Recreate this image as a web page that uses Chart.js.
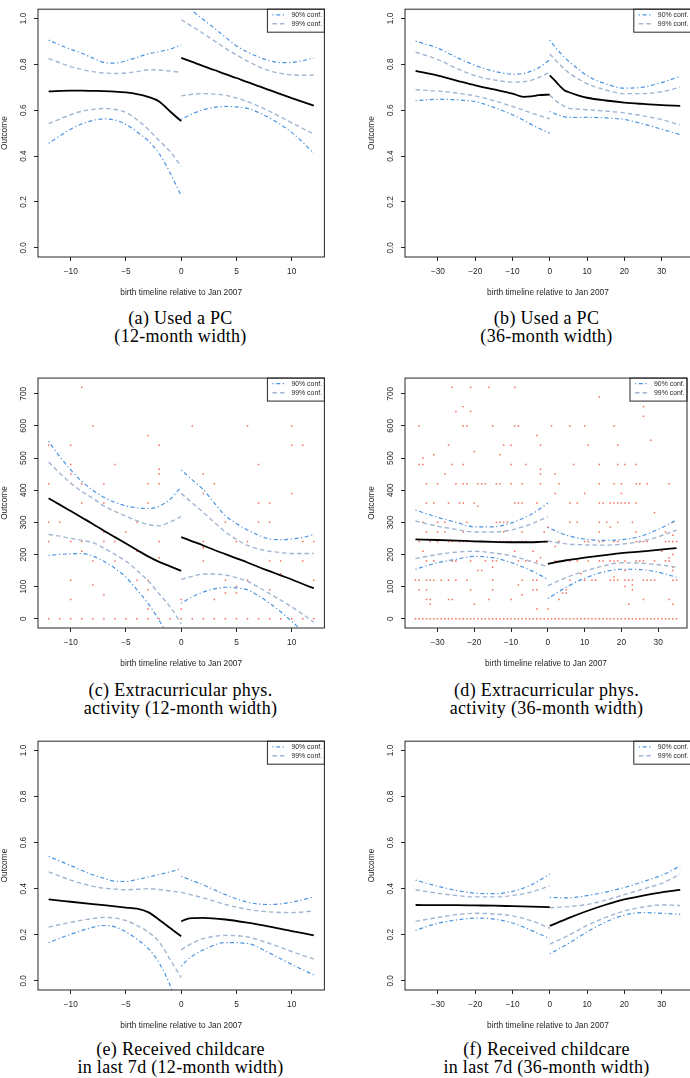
<!DOCTYPE html>
<html><head><meta charset="utf-8">
<script src="https://cdn.jsdelivr.net/npm/chart.js@4.4.1/dist/chart.umd.min.js"></script>
<style>
html,body{margin:0;padding:0;width:690px;height:1078px;overflow:hidden;background:#fff;position:relative}
canvas{position:absolute}
.cap{position:absolute;width:345px;text-align:center;font-family:'Liberation Serif','Times New Roman',serif;font-size:18px;line-height:18px;letter-spacing:0.3px;color:#000;white-space:nowrap}
</style></head><body>
<canvas id="pa"></canvas><canvas id="pb"></canvas>
<canvas id="pc"></canvas><canvas id="pd"></canvas>
<canvas id="pe"></canvas><canvas id="pf"></canvas>
<div class="cap" style="left:8px;top:309px">(a) Used a PC<br>(12-month width)</div>
<div class="cap" style="left:374px;top:309px">(b) Used a PC<br>(36-month width)</div>
<div class="cap" style="left:8px;top:681px">(c) Extracurricular phys.<br>activity (12-month width)</div>
<div class="cap" style="left:374px;top:681px">(d) Extracurricular phys.<br>activity (36-month width)</div>
<div class="cap" style="left:8px;top:1040px">(e) Received childcare<br>in last 7d (12-month width)</div>
<div class="cap" style="left:374px;top:1040px">(f) Received childcare<br>in last 7d (36-month width)</div>
<script>
// ---------- axis text ----------
const xTicks12 = [-10, -5, 0, 5, 10];
const xTicks36 = [-30, -20, -10, 0, 10, 20, 30];
const yTicksShare = [0, 0.2, 0.4, 0.6, 0.8, 1.0];
const yTicksMinutes = [0, 100, 200, 300, 400, 500, 600, 700];
const xTitle = 'birth timeline relative to Jan 2007';
const yTitle = 'Outcome';
const legendLabels = ['90% conf.', '99% conf.'];

// ---------- (a) Used a PC, 12-month ----------
const a_xL    = [-12, -10, -9, -8, -7, -6, -5, -4, -3, -2, -1, 0];
const a_mainL = [.682, .685, .685, .684, .683, .681, .677, .670, .658, .638, .594, .552];
const a_hi90L = [.905, .865, .848, .827, .808, .805, .815, .830, .845, .855, .866, .884];
const a_hi99L = [.825, .790, .777, .768, .762, .760, .762, .768, .776, .775, .770, .765];
const a_lo99L = [.541, .580, .595, .603, .607, .603, .590, .558, .517, .467, .420, .355];
const a_lo90L = [.456, .517, .540, .555, .562, .557, .538, .505, .467, .411, .326, .227];
const a_xR    = [0, 1, 2, 3, 4, 5, 6, 7, 8, 9, 10, 11, 12];
const a_mainR = [.828, .810, .792, .775, .757, .740, .722, .705, .687, .670, .652, .636, .620];
const a_hi90R = [1.12, 1.037, .995, .957, .918, .880, .853, .832, .815, .807, .808, .815, .828];
const a_hi99R = [.994, .964, .934, .902, .870, .841, .814, .790, .771, .760, .754, .752, .753];
const a_lo99R = [.662, .669, .672, .670, .665, .653, .637, .617, .595, .570, .545, .520, .496];
const a_lo90R = [.560, .584, .602, .612, .616, .614, .608, .590, .566, .537, .503, .460, .411];

// ---------- (b) Used a PC, 36-month ----------
const b_xL    = [-36, -30, -25, -20, -15, -10, -7, -5, -3, 0];
const b_mainL = [.771, .750, .729, .708, .690, .672, .658, .660, .665, .668];
const b_hi90L = [.901, .870, .830, .795, .770, .757, .760, .770, .785, .820];
const b_hi99L = [.853, .820, .782, .750, .732, .722, .724, .730, .742, .764];
const b_lo99L = [.689, .683, .675, .662, .641, .616, .600, .588, .577, .562];
const b_lo90L = [.641, .647, .645, .637, .612, .580, .556, .538, .522, .499];
const b_xR    = [0, 1, 2, 3, 4, 5, 8, 10, 15, 20, 25, 30, 35];
const b_mainR = [.752, .735, .718, .700, .686, .679, .662, .654, .642, .633, .627, .622, .619];
const b_hi90R = [.905, .884, .864, .846, .830, .814, .775, .750, .715, .696, .700, .720, .747];
const b_hi99R = [.845, .827, .810, .794, .779, .764, .733, .715, .688, .672, .672, .680, .700];
const b_lo99R = [.665, .650, .636, .625, .616, .609, .604, .602, .596, .588, .575, .559, .535];
const b_lo90R = [.594, .587, .580, .575, .571, .569, .568, .569, .566, .559, .540, .517, .493];

// ---------- (c) Extracurricular phys. activity, 12-month ----------
const c_xL    = [-12, -11, -10, -9, -8, -7, -6, -5, -4, -3, -2, -1, 0];
const c_mainL = [375, 355, 335, 315, 295, 274, 254, 234, 214, 194, 177, 163, 149];
const c_hi90L = [552, 505, 463, 428, 400, 378, 362, 351, 345, 343, 350, 372, 410];
const c_hi99L = [488, 453, 422, 396, 375, 351, 334, 319, 305, 293, 289, 301, 318];
const c_lo99L = [262, 257, 250, 244, 237, 220, 200, 179, 150, 118, 78, 37, -15];
const c_lo90L = [197, 200, 202, 203, 195, 179, 157, 129, 90, 48, -5, -65, -140];
const c_xR    = [0, 1, 2, 3, 4, 5, 6, 7, 8, 9, 10, 11, 12];
const c_mainR = [254, 241, 228, 214, 201, 188, 175, 161, 148, 135, 122, 108, 95];
const c_hi90R = [463, 432, 402, 360, 321, 296, 276, 260, 248, 246, 248, 253, 262];
const c_hi99R = [390, 360, 331, 300, 270, 247, 228, 217, 210, 206, 203, 203, 203];
const c_lo99R = [122, 132, 139, 139, 136, 128, 116, 98, 78, 58, 37, 14, -11];
const c_lo90R = [48, 68, 83, 93, 98, 96, 90, 72, 48, 22, -8, -40, -75];
// observations: month and the minutes observed in that month
const c_obsMonth = [-12, -11, -10, -9, -8, -7, -6, -5, -4, -3, -2, -1, 0, 1, 2, 3, 4, 5, 6, 7, 8, 9, 10, 11, 12];
const c_obsMinutes = [
  [540, 420, 300, 240, 0], [300, 0], [540, 480, 450, 240, 120, 60, 0], [720, 420, 360, 240, 210, 0],
  [600, 180, 105, 0], [420, 360, 270, 240, 75, 0], [480, 240, 180, 0], [270, 0], [300, 210, 120, 0],
  [570, 420, 360, 120, 90, 30, 0], [540, 465, 450, 420, 240, 190, 0], [0], [60, 30, 0], [600, 0],
  [450, 390, 240, 225, 220, 180, 0], [420, 60, 0], [300, 120, 80, 0], [240, 100, 80, 0], [600, 240, 120, 0],
  [480, 360, 300, 0], [360, 300, 180, 90, 0], [180, 140, 0], [600, 540, 390, 0], [540, 240, 180, 0], [240, 120, 0]
];

// ---------- (d) Extracurricular phys. activity, 36-month ----------
const d_xL    = [-36, -30, -25, -20, -15, -10, -5, -2, 0];
const d_mainL = [247, 245, 243, 241, 239, 238, 238, 239, 240];
const d_hi90L = [338, 316, 300, 286, 286, 298, 322, 343, 360];
const d_hi99L = [304, 288, 278, 270, 270, 276, 293, 307, 318];
const d_lo99L = [187, 200, 207, 210, 205, 196, 180, 169, 161];
const d_lo90L = [154, 174, 185, 194, 190, 175, 152, 135, 122];
const d_xR    = [0, 5, 10, 15, 20, 25, 30, 35];
const d_mainR = [171, 182, 190, 197, 204, 209, 214, 220];
const d_hi90R = [284, 260, 248, 244, 246, 256, 278, 308];
const d_hi99R = [242, 233, 230, 229, 232, 240, 255, 276];
const d_lo99R = [103, 128, 148, 164, 174, 173, 168, 161];
const d_lo90R = [63, 98, 126, 145, 154, 153, 145, 129];
// observations: minute level and the months in which it is observed
const d_obsMinutes = [720, 690, 660, 645, 630, 600, 570, 555, 540, 520, 510, 500, 480, 465, 450, 420, 390, 360, 350, 330, 300, 285, 270, 260, 240, 225, 210, 200, 190, 180, 160, 150, 140, 130, 120, 105, 100, 90, 80, 75, 60, 45, 30, 0];
const d_obsMonths = [
  [-26, -21, -16, -9],
  [14],
  [-23, 26],
  [-25, -21],
  [26],
  [-35, -23, -22, -15, -9, -8, 1, 6, 10, 18],
  [-3],
  [28],
  [-27, -12, -10, -2, 11, 19],
  [-20],
  [-31, -13],
  [-34],
  [-35, -34, -26, -23, -10, -6, 7, 14, 19, 21, 24],
  [-2],
  [-28, -2, 2],
  [-33, -30, -25, -23, -22, -19, -18, -17, -14, -13, -10, -7, -2, 3, 14, 18, 20, 24, 25, 27, 33],
  [2, 10, 20],
  [-33, -31, -27, -24, -23, -20, -9, -8, -7, -3, 6, 8, 14, 15, 17, 18, 19, 20, 21, 22, 24],
  [-19],
  [29],
  [-34, -30, -28, -22, -14, -13, -12, -11, 6, 8, 14, 16, 19, 23, 34],
  [0, 17],
  [-33, -30, -28, -23, -12, -7, -1, 14, 24, 32],
  [34],
  [-35, -32, -30, -27, -26, -24, -23, -22, -21, -20, -18, -17, -16, -15, -14, -13, -12, -11, -10, -8, -7, -6, -2, -1, 3, 10, 11, 14, 15, 18, 19, 24, 25, 26, 27, 32, 33, 34, 35],
  [2],
  [-34, -9, -4, 31],
  [34],
  [-2, 33],
  [-33, -31, -26, -25, -21, -17, -15, -14, -8, -6, -5, -3, 2, 6, 8, 11, 14, 15, 17, 18, 19, 21, 24, 25, 26, 29, 32, 33],
  [-15, 34],
  [-19, -18, 21, 34],
  [9],
  [18],
  [-36, -35, -33, -32, -31, -29, -27, -25, -22, -15, -7, -4, -3, 6, 10, 12, 13, 17, 18, 19, 21, 22, 23, 26, 27, 28, 29, 34, 35],
  [-8, 23],
  [21],
  [-35, -33, -21, -15, -4, -3, 5, 23],
  [4, 5],
  [-7],
  [-33, -32, -27, -26, -16, -10, 3, 26, 33],
  [-32, -20, 22, 34],
  [-3, 0],
  [-36, -35, -34, -33, -32, -31, -30, -29, -28, -27, -26, -25, -24, -23, -22, -21, -20, -19, -18, -17, -16, -15, -14, -13, -12, -11, -10, -9, -8, -7, -6, -5, -4, -3, -2, -1, 0,
   1, 2, 3, 4, 5, 6, 7, 8, 9, 10, 11, 12, 13, 14, 15, 16, 17, 18, 19, 20, 21, 22, 23, 24, 25, 26, 27, 28, 29, 30, 31, 32, 33, 34, 35]
];

// ---------- (e) Received childcare in last 7d, 12-month ----------
const e_xL    = [-12, -10, -8, -7, -6, -5, -4, -3, -2, -1, 0];
const e_mainL = [.353, .343, .333, .328, .323, .318, .313, .298, .265, .229, .193];
const e_hi90L = [.540, .500, .460, .445, .432, .431, .440, .450, .461, .473, .487];
const e_hi99L = [.473, .437, .410, .402, .398, .395, .397, .400, .396, .390, .384];
const e_lo99L = [.233, .254, .270, .275, .272, .261, .240, .212, .169, .092, .014];
const e_lo90L = [.166, .202, .232, .240, .234, .212, .180, .141, .078, -.02, -.15];
const e_xR    = [0, 0.5, 1, 2, 4, 6, 8, 10, 12];
const e_mainR = [.258, .268, .272, .273, .266, .252, .235, .216, .197];
const e_hi90R = [.454, .444, .435, .416, .374, .341, .331, .341, .364];
const e_hi99R = [.384, .378, .372, .360, .331, .310, .299, .296, .303];
const e_lo99R = [.134, .150, .163, .183, .197, .190, .162, .127, .094];
const e_lo90R = [.063, .088, .107, .134, .166, .162, .120, .071, .025];

// ---------- (f) Received childcare in last 7d, 36-month ----------
const f_xL    = [-36, -30, -25, -20, -15, -10, -5, 0];
const f_mainL = [.329, .328, .328, .327, .326, .324, .322, .320];
const f_hi90L = [.437, .410, .392, .380, .378, .388, .416, .463];
const f_hi99L = [.395, .380, .370, .364, .364, .370, .385, .412];
const f_lo99L = [.258, .275, .287, .293, .290, .282, .261, .228];
const f_lo90L = [.219, .250, .264, .272, .268, .251, .219, .183];
const f_xR    = [0, 5, 10, 15, 20, 25, 30, 35];
const f_mainR = [.238, .272, .303, .330, .353, .370, .384, .395];
const f_hi90R = [.362, .360, .370, .385, .405, .430, .458, .498];
const f_hi99R = [.317, .322, .331, .350, .374, .398, .423, .463];
const f_lo99R = [.159, .197, .240, .275, .303, .320, .329, .327];
const f_lo90R = [.117, .162, .212, .255, .285, .296, .293, .288];

// ---------- styles ----------
const FONT = {family: "'Liberation Sans', Arial, Helvetica, sans-serif", size: 8.3};
const INK = '#262626';
const S_MAIN = {borderColor: '#000', borderWidth: 1.8};
const S90 = {borderColor: '#4a93e0', borderWidth: 1.2, borderDash: [1.2, 2.6, 4, 2.6]};
const S99 = {borderColor: '#a2b6d0', borderWidth: 1.4, borderDash: [4.5, 3]};
const PT_COLOR = 'rgba(245,90,70,0.9)';

function fmtX(v) { return v < 0 ? '\u2212' + Math.abs(v) : String(v); }

function lineDS(xs, ys, style, label) {
  return Object.assign({
    label: label || '', data: xs.map((x, i) => ({x: x, y: ys[i]})),
    showLine: true, pointRadius: 0, fill: false, cubicInterpolationMode: 'monotone'
  }, style);
}

const boxPlugin = {
  id: 'rbox',
  afterDatasetsDraw(chart) {
    const {ctx, chartArea: a} = chart;
    ctx.save();
    ctx.strokeStyle = INK; ctx.lineWidth = 1;
    ctx.strokeRect(a.left, a.top, a.right - a.left, a.bottom - a.top);
    // legend box (top right, as in R legend("topright"))
    const w = 57, h = 23;
    const x0 = a.right - w, y0 = a.top;
    ctx.strokeRect(x0, y0, w, h);
    const rows = [{s: S90, y: y0 + 5.6, t: legendLabels[0]}, {s: S99, y: y0 + 14.6, t: legendLabels[1]}];
    rows.forEach(r => {
      ctx.beginPath();
      ctx.setLineDash(r.s.borderDash);
      ctx.strokeStyle = r.s.borderColor; ctx.lineWidth = r.s.borderWidth;
      ctx.moveTo(x0 + 5, r.y); ctx.lineTo(x0 + 19, r.y); ctx.stroke();
      ctx.setLineDash([]);
      ctx.fillStyle = INK;
      ctx.font = "6.9px 'Liberation Sans', Arial, sans-serif";
      ctx.textBaseline = 'middle'; ctx.textAlign = 'left';
      ctx.fillText(r.t, x0 + 24, r.y + 0.3);
    });
    ctx.restore();
  }
};

function panel(id, left, top, width, padTop, padRight, P) {
  const cv = document.getElementById(id);
  const plotH = 255.3, xAxisH = 44, yAxisW = 38;
  const H = Math.round(padTop + plotH + xAxisH);
  cv.width = width; cv.height = H;
  cv.style.left = left + 'px'; cv.style.top = top + 'px';
  cv.style.width = width + 'px'; cv.style.height = H + 'px';
  const ds = [];
  ds.push(lineDS(P.xL, P.mainL, S_MAIN));
  ds.push(lineDS(P.xR, P.mainR, S_MAIN));
  ds.push(lineDS(P.xL, P.hi90L, S90, legendLabels[0]));
  ds.push(lineDS(P.xL, P.lo90L, S90, legendLabels[0]));
  ds.push(lineDS(P.xR, P.hi90R, S90, legendLabels[0]));
  ds.push(lineDS(P.xR, P.lo90R, S90, legendLabels[0]));
  ds.push(lineDS(P.xL, P.hi99L, S99, legendLabels[1]));
  ds.push(lineDS(P.xL, P.lo99L, S99, legendLabels[1]));
  ds.push(lineDS(P.xR, P.hi99R, S99, legendLabels[1]));
  ds.push(lineDS(P.xR, P.lo99R, S99, legendLabels[1]));
  if (P.points) {
    ds.push({label: 'obs', data: P.points, showLine: false, pointStyle: 'rect', pointRadius: 1.05,
      pointBackgroundColor: PT_COLOR, pointBorderWidth: 0, borderWidth: 0});
  }
  const yPad = P.yPad;
  new Chart(cv, {
    type: 'scatter',
    data: {datasets: ds},
    options: {
      responsive: false, animation: false, events: [],
      layout: {padding: {left: 0, top: padTop, right: padRight, bottom: 0}},
      plugins: {legend: {display: false}, tooltip: {enabled: false}},
      scales: {
        x: {
          type: 'linear', min: P.xMin, max: P.xMax,
          afterBuildTicks: ax => { ax.ticks = P.xTicks.map(v => ({value: v})); },
          afterFit: ax => { ax.height = xAxisH; },
          grid: {display: true, drawOnChartArea: false, drawTicks: true, tickLength: 4, color: INK, lineWidth: 1},
          border: {display: false},
          ticks: {font: FONT, color: INK, padding: 6.2, maxRotation: 0, minRotation: 0, autoSkip: false, callback: fmtX},
          title: {display: true, text: xTitle, font: FONT, color: INK, padding: {top: 0, bottom: 3.5}}
        },
        y: {
          type: 'linear', min: P.yMin, max: P.yMax,
          afterBuildTicks: ax => { ax.ticks = P.yTicks.map(v => ({value: v})); },
          afterFit: ax => { ax.width = yAxisW; },
          grid: {display: true, drawOnChartArea: false, drawTicks: true, tickLength: 4, color: INK, lineWidth: 1},
          border: {display: false},
          ticks: {font: FONT, color: INK, padding: yPad, minRotation: 90, maxRotation: 90, crossAlign: 'center', autoSkip: false,
                  callback: P.yFmt},
          title: {display: true, text: yTitle, font: FONT, color: INK, padding: {top: 0, bottom: 0}}
        }
      }
    },
    plugins: [boxPlugin]
  });
}

function pts(months, lists) {
  const out = [];
  months.forEach((m, i) => lists[i].forEach(v => out.push({x: m, y: v})));
  return out;
}
function ptsByLevel(levels, monthLists) {
  const out = [];
  levels.forEach((v, i) => monthLists[i].forEach(m => out.push({x: m, y: v})));
  return out;
}

const share = v => v.toFixed(1);
const mins = v => String(v);
const X12 = {xMin: -12.96, xMax: 12.96, xTicks: xTicks12};
const X36 = {xMin: -38.84, xMax: 37.84, xTicks: xTicks36};
const YS = {yMin: -0.04, yMax: 1.04, yTicks: yTicksShare, yFmt: share, yPad: 4.2};
const YM = {yMin: -28.8, yMax: 748.8, yTicks: yTicksMinutes, yFmt: mins, yPad: 3.1};

const col1 = {left: 0, width: 345, padRight: 345 - 38 - 286.4};
const col2 = {left: 366.5, width: 324, padRight: 324 - 38 - 285.8};
const rows = [{top: 0, pad: 1.5}, {top: 370, pad: 2.6}, {top: 732, pad: 2.2}];

panel('pa', col1.left, rows[0].top, col1.width, rows[0].pad, col1.padRight, Object.assign({
  xL: a_xL, mainL: a_mainL, hi90L: a_hi90L, hi99L: a_hi99L, lo99L: a_lo99L, lo90L: a_lo90L,
  xR: a_xR, mainR: a_mainR, hi90R: a_hi90R, hi99R: a_hi99R, lo99R: a_lo99R, lo90R: a_lo90R}, X12, YS));
panel('pb', col2.left, rows[0].top, col2.width, rows[0].pad, col2.padRight, Object.assign({
  xL: b_xL, mainL: b_mainL, hi90L: b_hi90L, hi99L: b_hi99L, lo99L: b_lo99L, lo90L: b_lo90L,
  xR: b_xR, mainR: b_mainR, hi90R: b_hi90R, hi99R: b_hi99R, lo99R: b_lo99R, lo90R: b_lo90R}, X36, YS));
panel('pc', col1.left, rows[1].top, col1.width, rows[1].pad, col1.padRight, Object.assign({
  xL: c_xL, mainL: c_mainL, hi90L: c_hi90L, hi99L: c_hi99L, lo99L: c_lo99L, lo90L: c_lo90L,
  xR: c_xR, mainR: c_mainR, hi90R: c_hi90R, hi99R: c_hi99R, lo99R: c_lo99R, lo90R: c_lo90R,
  points: pts(c_obsMonth, c_obsMinutes)}, X12, YM));
panel('pd', col2.left, rows[1].top, col2.width, rows[1].pad, col2.padRight, Object.assign({
  xL: d_xL, mainL: d_mainL, hi90L: d_hi90L, hi99L: d_hi99L, lo99L: d_lo99L, lo90L: d_lo90L,
  xR: d_xR, mainR: d_mainR, hi90R: d_hi90R, hi99R: d_hi99R, lo99R: d_lo99R, lo90R: d_lo90R,
  points: ptsByLevel(d_obsMinutes, d_obsMonths)}, X36, YM));
panel('pe', col1.left, rows[2].top, col1.width, rows[2].pad, col1.padRight, Object.assign({
  xL: e_xL, mainL: e_mainL, hi90L: e_hi90L, hi99L: e_hi99L, lo99L: e_lo99L, lo90L: e_lo90L,
  xR: e_xR, mainR: e_mainR, hi90R: e_hi90R, hi99R: e_hi99R, lo99R: e_lo99R, lo90R: e_lo90R}, X12, YS));
panel('pf', col2.left, rows[2].top, col2.width, rows[2].pad, col2.padRight, Object.assign({
  xL: f_xL, mainL: f_mainL, hi90L: f_hi90L, hi99L: f_hi99L, lo99L: f_lo99L, lo90L: f_lo90L,
  xR: f_xR, mainR: f_mainR, hi90R: f_hi90R, hi99R: f_hi99R, lo99R: f_lo99R, lo90R: f_lo90R}, X36, YS));
</script>
</body></html>
